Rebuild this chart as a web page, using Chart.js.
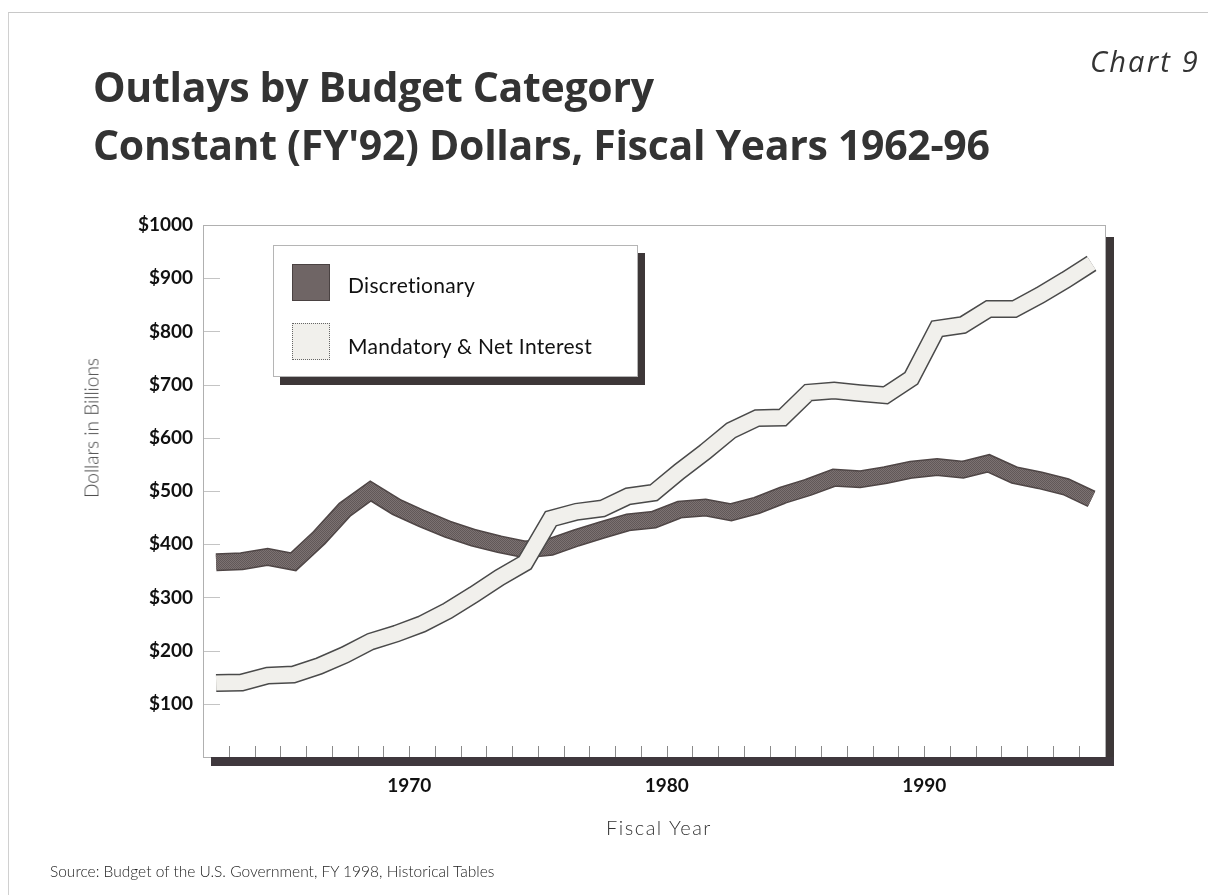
<!DOCTYPE html>
<html>
<head>
<meta charset="utf-8">
<title>Outlays by Budget Category</title>
<script src="https://cdn.jsdelivr.net/npm/chart.js@4.4.1/dist/chart.umd.min.js"></script>
<style>
  body { margin: 0; background: #fff; }
  #page { position: relative; width: 1208px; height: 895px; overflow: hidden; background: #fff; }
  #edge { position: absolute; left: 8px; top: 12px; width: 1200px; height: 883px; border-top: 1px solid #c8c8c8; border-left: 1px solid #d0d0d0; }
  #outlays { position: absolute; left: 0; top: 0; }
  #chartNo { position: absolute; right: 8px; top: 41px; font: italic 29px "Open Sans", sans-serif; color: #333; letter-spacing: 2.2px; }
  #title { position: absolute; left: 93px; top: 57px; margin: 0; font: bold 41px/58px "Open Sans", sans-serif; color: #333; letter-spacing: -0.3px; white-space: nowrap; }
  #yTitle { position: absolute; left: 91px; top: 428px; transform: translate(-50%, -50%) rotate(-90deg); font: 300 19px Lato, sans-serif; color: #444; white-space: nowrap; }
  #xTitle { position: absolute; left: 659px; top: 827px; transform: translate(-50%, -50%); font: 300 20px Lato, sans-serif; color: #333; letter-spacing: 1.5px; white-space: nowrap; }
  #source { position: absolute; left: 50px; top: 862px; font: 300 15.5px Lato, sans-serif; color: #222; white-space: nowrap; }
  #legend { position: absolute; left: 273px; top: 245px; width: 363px; height: 130px; background: #fff; border: 1px solid #b5b5b5; box-shadow: 7px 8px 0 #3d3738; }
  .swatch { position: absolute; left: 18px; width: 38px; height: 37px; box-sizing: border-box; }
  #swDisc { top: 18px; background: #6f6565; border: 1px solid #4a4242; }
  #swMand { top: 77px; background: #f1f0ec; border: 1px dotted #666; }
  .item { position: absolute; left: 74px; font: 21px Lato, sans-serif; color: #111; letter-spacing: 0.3px; white-space: nowrap; }
</style>
</head>
<body>
<div id="page">
  <div id="edge"></div>
  <canvas id="outlays" width="1208" height="895"></canvas>
  <div id="chartNo">Chart 9</div>
  <h1 id="title">Outlays by Budget Category<br>Constant (FY'92) Dollars, Fiscal Years 1962-96</h1>
  <div id="yTitle">Dollars in Billions</div>
  <div id="xTitle">Fiscal Year</div>
  <div id="legend">
    <div class="swatch" id="swDisc"></div>
    <div class="item" style="top:26px">Discretionary</div>
    <div class="swatch" id="swMand"></div>
    <div class="item" style="top:87px">Mandatory &amp; Net Interest</div>
  </div>
  <div id="source">Source: Budget of the U.S. Government, FY 1998, Historical Tables</div>
</div>

<script>
// fiscal years and outlays, billions of FY'92 dollars
var years = [1962, 1963, 1964, 1965, 1966, 1967, 1968, 1969, 1970, 1971, 1972, 1973,
             1974, 1975, 1976, 1977, 1978, 1979, 1980, 1981, 1982, 1983, 1984, 1985,
             1986, 1987, 1988, 1989, 1990, 1991, 1992, 1993, 1994, 1995, 1996];

var discretionary = [366, 368, 376, 367, 412, 465, 500, 470, 448, 428, 412, 400,
                     390, 395, 412, 427, 441, 446, 465, 469, 460, 473, 492, 507,
                     525, 522, 530, 540, 545, 540, 552, 530, 520, 508, 485];

var mandatory = [139, 140, 153, 155, 171, 192, 217, 232, 250, 275, 305, 337,
                 365, 448, 461, 467, 490, 497, 537, 574, 614, 637, 638, 685,
                 689, 684, 680, 712, 805, 812, 842, 842, 868, 897, 928];

var yearLabels = [1970, 1980, 1990];
var dollarTicks = [100, 200, 300, 400, 500, 600, 700, 800, 900, 1000];

// each fiscal year sits in the middle of its year on the axis
function toPoints(values) {
    var pts = [];
    for (var i = 0; i < years.length; i++) {
        pts.push({ x: years[i] + 0.5, y: values[i] });
    }
    return pts;
}

// dotted grey fill for the discretionary ribbon
function ditherPattern() {
    var c = document.createElement('canvas');
    c.width = 2;
    c.height = 2;
    var g = c.getContext('2d');
    g.fillStyle = '#7c7272';
    g.fillRect(0, 0, 2, 2);
    g.fillStyle = '#615858';
    g.fillRect(0, 0, 1, 1);
    g.fillRect(1, 1, 1, 1);
    return g.createPattern(c, 'repeat');
}

// white plot box with a dark drop shadow, plus the short inside tick marks
var plotFrame = {
    id: 'plotFrame',
    beforeDatasetsDraw: function(chart) {
        var a = chart.chartArea;
        var ctx = chart.ctx;
        ctx.save();
        ctx.fillStyle = '#3d3738';
        ctx.fillRect(a.left + 7, a.top + 12, a.right - a.left + 1, a.bottom - a.top - 3);
        ctx.fillStyle = '#fff';
        ctx.fillRect(a.left, a.top, a.right - a.left, a.bottom - a.top);
        ctx.strokeStyle = '#b0b0b0';
        ctx.lineWidth = 1;
        ctx.strokeRect(a.left - 0.5, a.top + 0.5, a.right - a.left, a.bottom - a.top);

        var xs = chart.scales.x;
        var ys = chart.scales.y;
        ctx.strokeStyle = '#8a8a8a';
        ctx.beginPath();
        for (var yr = 1963; yr <= 1996; yr++) {
            var px = Math.round(xs.getPixelForValue(yr)) + 0.5;
            ctx.moveTo(px, a.bottom - 11);
            ctx.lineTo(px, a.bottom);
        }
        ctx.stroke();
        ctx.strokeStyle = '#c4c4c4';
        ctx.beginPath();
        for (var i = 0; i < dollarTicks.length - 1; i++) {
            var py = Math.round(ys.getPixelForValue(dollarTicks[i])) + 0.5;
            ctx.moveTo(a.left, py);
            ctx.lineTo(a.left + 16, py);
        }
        ctx.stroke();
        ctx.restore();
    },
    afterDatasetsDraw: function(chart) {
        // heavy base line under the plot
        var a = chart.chartArea;
        var ctx = chart.ctx;
        ctx.save();
        ctx.fillStyle = '#3f383d';
        ctx.fillRect(a.left + 7, a.bottom, a.right - a.left + 1, 9);
        ctx.restore();
    }
};

function ribbon(values, color, width, order) {
    return {
        data: toPoints(values),
        borderColor: color,
        borderWidth: width,
        borderJoinStyle: 'miter',
        borderCapStyle: 'butt',
        pointRadius: 0,
        tension: 0,
        fill: false,
        order: order
    };
}

var ctx = document.getElementById('outlays');
var outlaysChart = new Chart(ctx, {
    type: 'line',
    data: {
        datasets: [
            ribbon(mandatory, '#f1f0ec', 15, 1),
            ribbon(mandatory, '#4a4a4a', 18, 2),
            ribbon(discretionary, ditherPattern(), 15, 3),
            ribbon(discretionary, '#4f4646', 18, 4)
        ]
    },
    options: {
        responsive: false,
        animation: false,
        events: [],
        layout: {
            padding: { left: 72, right: 102, top: 225, bottom: 54 }
        },
        plugins: {
            legend: { display: false },
            tooltip: { enabled: false }
        },
        scales: {
            x: {
                type: 'linear',
                min: 1962.03,
                max: 1997.06,
                grid: { display: false, drawTicks: false },
                border: { display: false },
                afterBuildTicks: function(scale) {
                    scale.ticks = yearLabels.map(function(v) { return { value: v }; });
                },
                afterFit: function(scale) { scale.height = 84; },
                ticks: {
                    autoSkip: false,
                    maxRotation: 0,
                    padding: 17,
                    color: '#111',
                    font: { family: 'Lato', size: 19, weight: 'bold' },
                    callback: function(v) { return String(v); }
                }
            },
            y: {
                min: 0,
                max: 1000,
                grid: { display: false, drawTicks: false },
                border: { display: false },
                afterBuildTicks: function(scale) {
                    scale.ticks = dollarTicks.map(function(v) { return { value: v }; });
                },
                afterFit: function(scale) { scale.width = 132; },
                ticks: {
                    padding: 11,
                    color: '#111',
                    font: { family: 'Lato', size: 19, weight: 'bold' },
                    callback: function(v) { return '$' + v; }
                }
            }
        }
    },
    plugins: [plotFrame]
});
</script>
</body>
</html>
